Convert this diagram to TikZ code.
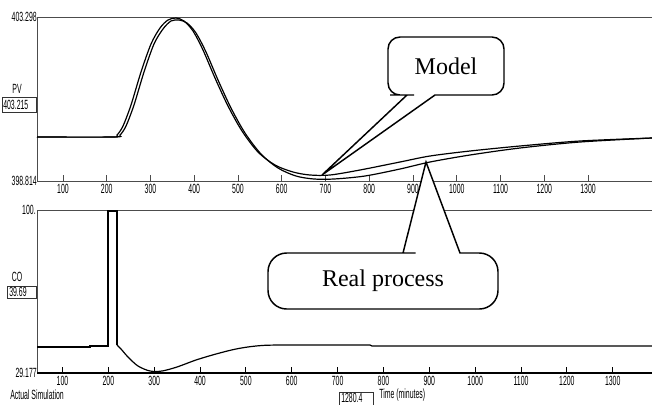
\documentclass[tikz,border=0pt]{standalone}
\usepackage{fontspec}
\setmainfont{Liberation Serif}
\newfontfamily\trendfont{Liberation Sans}
\newcommand{\trendlbl}[1]{{\trendfont\fontsize{10}{10}\selectfont\scalebox{0.52}[1]{#1}}}

\tikzset{
  frameline/.style={draw=black!70, line width=0.7pt},
  trend/.style={line width=0.9pt},
  lbl/.style={inner sep=0pt},
  callout/.style={draw, fill=white, line width=1.1pt},
  readout/.style={draw=black!80, line width=0.6pt},
}

\begin{document}
\begin{tikzpicture}[x=0.75pt, y=-0.75pt]
    \useasboundingbox (0,0) rectangle (652,404);

    % PV frame
    \draw[frameline] (652,17) -- (37,17) -- (37,181) -- (652,181);
    \foreach \t [count=\k from 0] in {100,200,...,1300} {
        \draw[frameline] (63+\k*43.75,175) -- (63+\k*43.75,181);
        \node[lbl] (pvtick\t) at (63+\k*43.75,189) {\trendlbl{\t}};
    }
    \node[lbl, anchor=east] (pvmax) at (37,17) {\trendlbl{403.298}};
    \node[lbl, anchor=east] (pvmin) at (37,181) {\trendlbl{398.814}};
    \node[lbl] (pv) at (17,89) {\trendlbl{PV}};
    \draw[readout] (2,97) rectangle (36,112);
    \node[lbl, anchor=west] (pvval) at (3,104.5) {\trendlbl{403.215}};

    % PV trends
    \draw[trend] plot[smooth] coordinates {(37,137) (112,137) (117,135) (123,126)
        (131,105) (141,72) (151,44) (160,28) (168,20) (176,18) (184,21) (193,31)
        (203,50) (215,78) (228,106) (242,131) (258,152) (275,165) (293,172)
        (310,175) (330,175) (360,170) (400,162) (430,156) (470,151) (520,146)
        (580,141) (652,138)};
    \draw[trend] plot[smooth] coordinates {(37,137) (114,137) (120,135) (126,126)
        (134,105) (144,72) (154,44) (163,29) (171,21) (179,20) (187,23) (196,33)
        (206,52) (218,80) (231,108) (245,133) (261,154) (278,168) (296,176)
        (314,179) (334,179) (365,176) (400,169) (430,162) (470,155) (520,148)
        (580,142) (652,138)};

    % CO frame
    \draw[frameline] (652,210) -- (37,210) -- (37,373);
    \draw[line width=0.8pt] (37,373) -- (652,373);
    \foreach \t [count=\k from 0] in {100,200,...,1300} {
        \draw[line width=0.7pt] (62.5+\k*45.85,367) -- (62.5+\k*45.85,373);
        \node[lbl] (cotick\t) at (62.5+\k*45.85,381) {\trendlbl{\t}};
    }
    \node[lbl, anchor=east] (comax) at (36,210) {\trendlbl{100.}};
    \node[lbl, anchor=east] (comin) at (37,373) {\trendlbl{29.177}};
    \node[lbl] (co) at (17,277) {\trendlbl{CO}};
    \draw[readout] (7,286) rectangle (36,298);
    \node[lbl, anchor=west] (coval) at (9,292) {\trendlbl{39.69}};

    % CO trend
    \draw[trend] (37,347) -- (90,347) -- (90,346) -- (108,346) -- (108,211)
        -- (117,211) -- (117,345);
    \draw[trend] plot[smooth] coordinates {(117,345) (121,349) (128,357)
        (138,366) (150,371) (162,371) (177,367) (196,360) (216,354) (236,349)
        (256,346) (280,345) (370,345)};
    \draw[trend] (370,345) -- (372,346) -- (652,346);

    % Footer
    \node[lbl, anchor=west] (sim) at (10,395) {\trendlbl{Actual Simulation}};
    \draw[readout] (339,392) rectangle (373,405);
    \node[lbl, anchor=west] (timeval) at (341,398) {\trendlbl{1280.4}};
    \node[lbl, anchor=west] (timelbl) at (379,395) {\trendlbl{Time (minutes)}};

    % Callouts
    \coordinate (modeltip) at (322,175);
    \draw[callout] (modeltip) -- (435,95) -- (440,95) [rounded corners=9]
        -- (504,95) -- (504,37) -- (388,37) -- (388,95) -- (402,95)
        [sharp corners] -- (407,95) -- cycle;
    \node[font=\fontsize{18}{18}\selectfont] (model) at (446,66) {Model};

    \coordinate (realtip) at (426,162);
    \draw[callout] (realtip) -- (460,253) -- (466,253) [rounded corners=14]
        -- (498,253) -- (498,309) -- (268,309) -- (268,253) -- (397,253)
        [sharp corners] -- (403,253) -- cycle;
    \node[font=\fontsize{18}{18}\selectfont] (real) at (383,281) {Real process};
\end{tikzpicture}
\end{document}
